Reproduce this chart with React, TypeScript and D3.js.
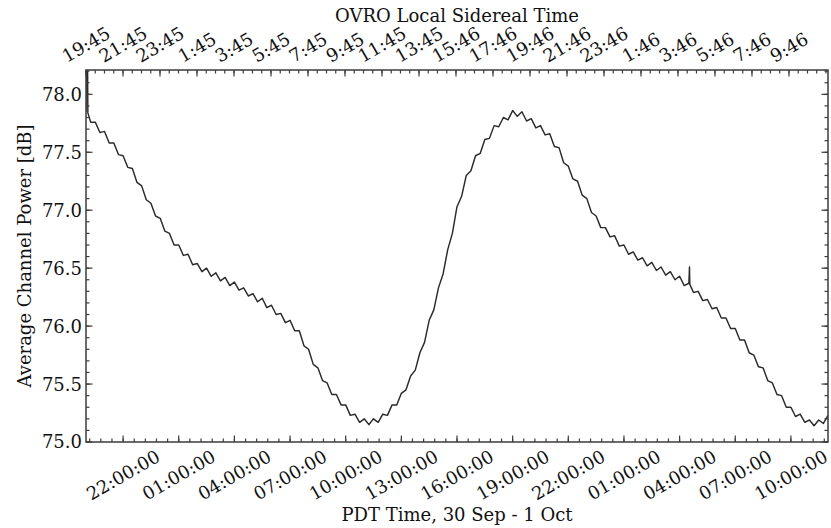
import * as React from 'react';
import {useEffect, useRef} from 'react';
import * as d3 from 'd3';

// PDT time range covered by the plot
const startTime = new Date(2014, 8, 29, 20, 0);
const endTime = new Date(2014, 9, 1, 12, 0);
const stepMinutes = 15;

// average channel power [dB], one sample every 15 min from startTime
const powerDb = [
    77.85, 77.76, 77.76, 77.67, 77.68, 77.58, 77.58, 77.48, 77.47, 77.37,
    77.36, 77.24, 77.21, 77.09, 77.06, 76.95, 76.93, 76.82, 76.80, 76.70,
    76.70, 76.61, 76.62, 76.53, 76.54, 76.47, 76.50, 76.43, 76.46, 76.39,
    76.42, 76.35, 76.38, 76.31, 76.33, 76.26, 76.28, 76.21, 76.24, 76.16,
    76.18, 76.10, 76.11, 76.03, 76.05, 75.96, 75.96, 75.83, 75.80, 75.67,
    75.64, 75.53, 75.51, 75.41, 75.41, 75.32, 75.32, 75.23, 75.24, 75.17,
    75.20, 75.15, 75.20, 75.17, 75.24, 75.23, 75.32, 75.32, 75.42, 75.45,
    75.57, 75.62, 75.77, 75.86, 76.05, 76.14, 76.33, 76.45, 76.66, 76.80,
    77.03, 77.12, 77.30, 77.34, 77.47, 77.49, 77.61, 77.62, 77.73, 77.72,
    77.80, 77.78, 77.86, 77.81, 77.85, 77.77, 77.79, 77.71, 77.73, 77.65,
    77.66, 77.55, 77.54, 77.41, 77.38, 77.27, 77.25, 77.13, 77.10, 76.98,
    76.95, 76.85, 76.85, 76.77, 76.78, 76.69, 76.70, 76.62, 76.64, 76.57,
    76.59, 76.52, 76.55, 76.48, 76.51, 76.44, 76.47, 76.40, 76.43, 76.35,
    76.37, 76.29, 76.30, 76.22, 76.23, 76.15, 76.16, 76.07, 76.07, 75.98,
    75.98, 75.88, 75.88, 75.77, 75.75, 75.65, 75.64, 75.53, 75.51, 75.41,
    75.40, 75.30, 75.30, 75.22, 75.24, 75.17, 75.19, 75.14, 75.19, 75.16,
    75.23
];

// short glitches: minutes after start, dB
const glitchMinutes = [3, 6, 1952, 1953];
const glitchDb = [79.2, 77.84, 76.51, 76.36];

const yTicks = [75.0, 75.5, 76.0, 76.5, 77.0, 77.5, 78.0];
const yDomain = [75.0, 78.21];

const lstLabels = ['19:45', '21:45', '23:45', '1:45', '3:45', '5:45', '7:45', '9:45', '11:45', '13:45',
    '15:46', '17:46', '19:46', '21:46', '23:46', '1:46', '3:46', '5:46', '7:46', '9:46'];

const siderealRatio = 1.0027379;

const App = () => {
    const chartRef = useRef(null);

    useEffect(() => {
        const svg = d3.select(chartRef.current);
        svg.selectAll('*').remove();

        const left = 86, right = 828, top = 70, bottom = 442;
        const font = 'DejaVu Serif';
        const fs = 18;
        const capH = fs * 0.73;
        const frameColor = '#3c3c3c';

        const x = d3.scaleTime().domain([startTime, endTime]).range([left, right]);
        const y = d3.scaleLinear().domain(yDomain).range([bottom, top]);
        const totalHours = (endTime.getTime() - startTime.getTime()) / 3600000;
        const xLst = d3.scaleLinear().domain([0, totalHours * siderealRatio]).range([left, right]);

        const points = powerDb.map((v, i) => ({t: new Date(startTime.getTime() + i * stepMinutes * 60000), v}))
            .concat(glitchMinutes.map((m, i) => ({t: new Date(startTime.getTime() + m * 60000), v: glitchDb[i]})))
            .sort((a, b) => a.t.getTime() - b.t.getTime());

        svg.append('defs').append('clipPath').attr('id', 'plotclip')
            .append('rect').attr('x', left).attr('y', top).attr('width', right - left).attr('height', bottom - top);

        const line = d3.line().x(d => x(d.t)).y(d => y(d.v));
        svg.append('path')
            .datum(points)
            .attr('clip-path', 'url(#plotclip)')
            .attr('fill', 'none')
            .attr('stroke', '#2a2a2a')
            .attr('stroke-width', 1.45)
            .attr('stroke-linejoin', 'round')
            .attr('d', line);

        // ticks (all pointing inward)
        const majorBottom = d3.timeHour.range(new Date(2014, 8, 29, 22), new Date(endTime.getTime() + 1), 3);
        const minorBottom = d3.timeMinute.range(new Date(2014, 8, 29, 20, 12), new Date(endTime.getTime() + 1), 36);
        const majorTop = d3.range(0, 39, 2);
        const minorTop = d3.range(0, totalHours * siderealRatio, 0.5);
        const minorY = d3.range(75.0, 78.2, 0.1);

        const ticks = svg.append('g').attr('stroke', frameColor).attr('stroke-width', 1.2);
        const tick = (x1, y1, x2, y2) => ticks.append('line').attr('x1', x1).attr('y1', y1).attr('x2', x2).attr('y2', y2);
        minorBottom.forEach(t => tick(x(t), bottom, x(t), bottom - 3.5));
        majorBottom.forEach(t => tick(x(t), bottom, x(t), bottom - 6.5));
        minorTop.forEach(h => tick(xLst(h), top, xLst(h), top + 3.5));
        majorTop.forEach(h => tick(xLst(h), top, xLst(h), top + 6.5));
        minorY.forEach(v => { tick(left, y(v), left + 3.5, y(v)); tick(right, y(v), right - 3.5, y(v)); });
        yTicks.forEach(v => { tick(left, y(v), left + 6.5, y(v)); tick(right, y(v), right - 6.5, y(v)); });

        svg.append('rect')
            .attr('x', left).attr('y', top).attr('width', right - left).attr('height', bottom - top)
            .attr('fill', 'none').attr('stroke', frameColor).attr('stroke-width', 1.5);

        const txt = svg.append('g').attr('font-family', font).attr('font-size', fs).attr('fill', '#111');

        // y tick labels
        yTicks.forEach(v => {
            txt.append('text').attr('x', left - 4).attr('y', y(v)).attr('dy', '0.36em')
                .attr('text-anchor', 'end').text(d3.format('.1f')(v));
        });

        // bottom rotated labels
        const fmt = d3.timeFormat('%H:%M:%S');
        majorBottom.forEach(t => {
            const el = txt.append('text').attr('text-anchor', 'middle').attr('dy', '0.36em').text(fmt(t));
            const w = el.node().getComputedTextLength();
            const cy = bottom + 7 + 0.25 * w + 0.433 * capH;
            el.attr('transform', `translate(${x(t)},${cy}) rotate(-30)`);
        });

        // top rotated sidereal labels
        majorTop.forEach((h, i) => {
            const el = txt.append('text').attr('text-anchor', 'middle').attr('dy', '0.36em').text(lstLabels[i]);
            const w = el.node().getComputedTextLength();
            const cy = top - 7 - 0.25 * w - 0.433 * capH;
            el.attr('transform', `translate(${xLst(h)},${cy}) rotate(-30)`);
        });

        txt.append('text').attr('x', (left + right) / 2).attr('y', 22).attr('text-anchor', 'middle')
            .text('OVRO Local Sidereal Time');
        txt.append('text').attr('x', (left + right) / 2).attr('y', 521).attr('text-anchor', 'middle')
            .text('PDT Time, 30 Sep - 1 Oct');
        txt.append('text').attr('transform', `translate(31,${(top + bottom) / 2}) rotate(-90)`)
            .attr('text-anchor', 'middle').text('Average Channel Power [dB]');
    }, []);

    return (
        <svg ref={chartRef} width={831} height={528} style={{position: 'absolute', left: 0, top: 0, background: '#fff'}}></svg>
    );
};

export default App;
